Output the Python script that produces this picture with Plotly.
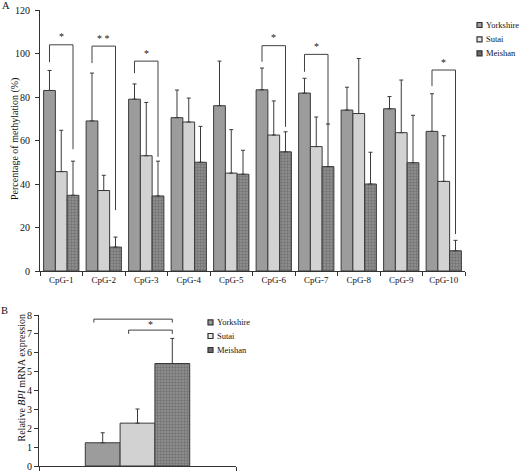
import plotly.graph_objects as go

# ---------------- data ----------------
cpg_sites = ["CpG-1", "CpG-2", "CpG-3", "CpG-4", "CpG-5",
             "CpG-6", "CpG-7", "CpG-8", "CpG-9", "CpG-10"]
breeds = ["Yorkshire", "Sutai", "Meishan"]

meth_yorkshire = [83, 69, 79, 70.5, 76, 83.3, 81.8, 74, 74.6, 64.2]
meth_sutai = [45.7, 37, 53, 68.5, 45, 62.5, 57.2, 72.4, 63.6, 41.2]
meth_meishan = [34.8, 11, 34.5, 50, 44.5, 54.8, 48, 40, 49.8, 9.3]

err_yorkshire = [9.2, 22, 7, 12.7, 20.5, 10, 6.8, 10.5, 5.6, 17.3]
err_sutai = [19, 7, 24.5, 11, 20, 15.7, 13.6, 25.3, 24.2, 21]
err_meishan = [15.7, 4.6, 16, 16.5, 11, 9.2, 19.6, 14.6, 21.8, 4.8]

# significance brackets (Yorkshire vs Meishan at a site)
sig_site = [0, 1, 2, 5, 6, 9]
sig_top = [104, 103.4, 96.5, 103.6, 99.6, 92.4]
sig_left_end = [96, 95.6, 91, 96.2, 91.6, 85]
sig_right_end = [56, 28, 52.5, 66.3, 67, 17]
sig_label = ["*", "* *", "*", "*", "*", "*"]

expr_group = ["BPI"]
expr_values = [1.23, 2.27, 5.43]
expr_err = [0.53, 0.75, 1.33]

expr_sig_from = [0, 1]
expr_sig_to = [2, 2]
expr_sig_top = [7.78, 7.2]
expr_sig_leg = [7.6, 7.0]
expr_sig_label = ["*", "*"]

# ---------------- style ----------------
FONT = "Liberation Serif, Times New Roman, serif"
fills = ["#9c9c9c", "#d2d2d2", "#858585"]
edge = "#3a3a3a"
W, H = 520, 478   # slightly taller than the 471px view so the bottom "0" label is not hidden


def px(xp):
    return xp / W


def py(yp):
    return 1 - yp / H


fig = go.Figure()

top_vals = [meth_yorkshire, meth_sutai, meth_meishan]
top_errs = [err_yorkshire, err_sutai, err_meishan]


def bar_marker(k):
    m = dict(color=fills[k], line=dict(color=edge, width=1))
    if k == 2:
        m["pattern"] = dict(shape="+", size=3, solidity=0.35,
                            fgcolor="#555555", bgcolor="#8c8c8c")
    return m


gap_top = 0.17
w_top = (1 - gap_top) / 3
gap_bot = 0.47
w_bot = (1 - gap_bot) / 3

for k, name in enumerate(breeds):
    fig.add_trace(go.Bar(
        x=cpg_sites, y=top_vals[k], name=name, marker=bar_marker(k),
        error_y=dict(type="data", array=top_errs[k], arrayminus=[0] * len(cpg_sites),
                     symmetric=False, color=edge, thickness=1, width=2),
        xaxis="x", yaxis="y", showlegend=False))

for k, name in enumerate(breeds):
    fig.add_trace(go.Bar(
        x=expr_group, y=[expr_values[k]], name=name, marker=bar_marker(k),
        width=w_bot, offset=(k - 1) * w_bot - w_bot / 2,
        error_y=dict(type="data", array=[expr_err[k]], arrayminus=[0],
                     symmetric=False, color=edge, thickness=1, width=2),
        xaxis="x2", yaxis="y2", showlegend=False))

shapes = []
annotations = []
for s, t, le, re, lab in zip(sig_site, sig_top, sig_left_end, sig_right_end, sig_label):
    xl = s - w_top
    xr = s + w_top
    shapes.append(dict(type="path", xref="x", yref="y",
                       path=f"M {xl},{le} L {xl},{t} L {xr},{t} L {xr},{re}",
                       line=dict(color="#404040", width=1)))
    annotations.append(dict(x=s, y=t + 3.6, xref="x", yref="y", text=lab,
                            showarrow=False, font=dict(family=FONT, size=10, color="#222")))

for f, to, t, lg, lab in zip(expr_sig_from, expr_sig_to, expr_sig_top, expr_sig_leg, expr_sig_label):
    xl = (f - 1) * w_bot - 0.045
    xr = (to - 1) * w_bot
    shapes.append(dict(type="path", xref="x2", yref="y2",
                       path=f"M {xl},{lg} L {xl},{t} L {xr},{t} L {xr},{lg}",
                       line=dict(color="#404040", width=1)))
    annotations.append(dict(x=(xl + xr) / 2, y=t + 0.28, xref="x2", yref="y2", text=lab,
                            showarrow=False, font=dict(family=FONT, size=10, color="#222")))

# panel letters
annotations.append(dict(x=px(5.5), y=py(5.5), xref="paper", yref="paper", text="A",
                        showarrow=False, xanchor="center", yanchor="middle",
                        font=dict(family=FONT, size=10.5, color="#111")))
annotations.append(dict(x=px(4.5), y=py(310), xref="paper", yref="paper", text="B",
                        showarrow=False, xanchor="center", yanchor="middle",
                        font=dict(family=FONT, size=10.5, color="#111")))

# y-axis titles (Excel-style placement)
annotations.append(dict(x=px(15), y=py(139), xref="paper", yref="paper",
                        text="Percentage of methylation (%)", textangle=-90,
                        showarrow=False, xanchor="center", yanchor="middle",
                        font=dict(family=FONT, size=10, color="#111")))
annotations.append(dict(x=px(20.5), y=py(378), xref="paper", yref="paper",
                        text="Relative <i>BPI</i> mRNA expression", textangle=-90,
                        showarrow=False, xanchor="center", yanchor="middle",
                        font=dict(family=FONT, size=10, color="#111")))

# legends (small squares + text, as in the source figure)
leg_colors = ["#9c9c9c", "#e8e8e8", "#6a6a6a"]
legend_blocks = [(477, 484, [25, 39.3, 53.3]), (208, 215, [322.3, 336, 350])]
for sx, tx, rows in legend_blocks:
    for k, name in enumerate(breeds):
        yc = rows[k]
        shapes.append(dict(type="rect", xref="paper", yref="paper",
                           x0=px(sx), x1=px(sx + 5), y0=py(yc + 2.5), y1=py(yc - 2.5),
                           fillcolor=leg_colors[k], line=dict(color="#333333", width=1.2)))
        annotations.append(dict(x=px(tx), y=py(yc), xref="paper", yref="paper",
                                text=name, showarrow=False, xanchor="left", yanchor="middle",
                                font=dict(family=FONT, size=8.5, color="#111")))

axis_common = dict(showline=True, linecolor="#333", linewidth=1, ticks="outside",
                   ticklen=4, tickcolor="#333", showgrid=False, zeroline=False,
                   automargin=False, ticklabeloverflow="allow")

fig.update_layout(
    width=W, height=H,
    margin=dict(l=0, r=0, t=0, b=0),
    paper_bgcolor="white", plot_bgcolor="white",
    font=dict(family=FONT, size=10, color="#111"),
    showlegend=False,
    barmode="group", bargap=gap_top, bargroupgap=0,
    xaxis=dict(domain=[px(40), px(465)], anchor="y", tickson="boundaries",
               type="category", tickfont=dict(family=FONT, size=9, color="#111"),
               **axis_common),
    yaxis=dict(domain=[py(271), py(10)], anchor="x", range=[0, 120], dtick=20,
               ticklabelstandoff=3,
               tickfont=dict(family=FONT, size=10, color="#111"), **axis_common),
    xaxis2=dict(domain=[px(39), px(236)], anchor="y2", tickson="boundaries",
                type="category", showticklabels=False, range=[-0.5, 0.5], **axis_common),
    yaxis2=dict(domain=[py(466), py(315)], anchor="x2", range=[0, 8], dtick=1,
                tickfont=dict(family=FONT, size=10, color="#111"), **axis_common),
    shapes=shapes, annotations=annotations,
)

fig.write_html("out.html", config={"displayModeBar": False},
               post_script="document.body.style.margin='0';document.body.style.overflow='hidden';")
